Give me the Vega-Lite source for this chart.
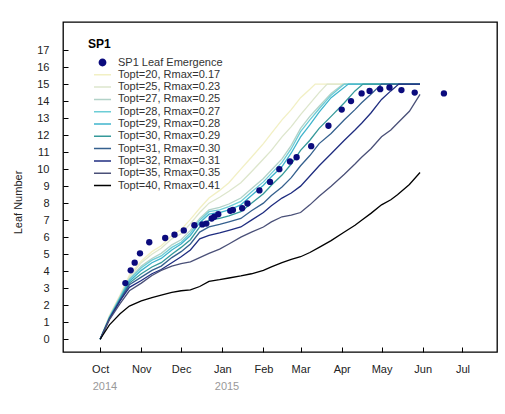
{
"$schema": "https://vega.github.io/schema/vega-lite/v6.json",
"width": 434, "height": 330,
"autosize": "none",
"padding": {"left": 63, "top": 22, "right": 8, "bottom": 62},
"background": "white",
"config": {"view": {"stroke": "#000", "strokeWidth": 1.3}, "font": "Liberation Sans", "axisY": {"labelOverlap": false}},
"datasets": {
"obs": [
{"series":"SP1 Leaf Emergence","date":"2014-10-20","value":3.3},
{"series":"SP1 Leaf Emergence","date":"2014-10-24","value":4.05},
{"series":"SP1 Leaf Emergence","date":"2014-10-27","value":4.5},
{"series":"SP1 Leaf Emergence","date":"2014-10-31","value":5.05},
{"series":"SP1 Leaf Emergence","date":"2014-11-07","value":5.7},
{"series":"SP1 Leaf Emergence","date":"2014-11-19","value":5.95},
{"series":"SP1 Leaf Emergence","date":"2014-11-26","value":6.15},
{"series":"SP1 Leaf Emergence","date":"2014-12-03","value":6.4},
{"series":"SP1 Leaf Emergence","date":"2014-12-11","value":6.7},
{"series":"SP1 Leaf Emergence","date":"2014-12-17","value":6.75},
{"series":"SP1 Leaf Emergence","date":"2014-12-20","value":6.8},
{"series":"SP1 Leaf Emergence","date":"2014-12-24","value":7.1},
{"series":"SP1 Leaf Emergence","date":"2014-12-26","value":7.2},
{"series":"SP1 Leaf Emergence","date":"2014-12-29","value":7.35},
{"series":"SP1 Leaf Emergence","date":"2015-01-07","value":7.55},
{"series":"SP1 Leaf Emergence","date":"2015-01-09","value":7.6},
{"series":"SP1 Leaf Emergence","date":"2015-01-16","value":7.7},
{"series":"SP1 Leaf Emergence","date":"2015-01-20","value":7.98},
{"series":"SP1 Leaf Emergence","date":"2015-01-29","value":8.75},
{"series":"SP1 Leaf Emergence","date":"2015-02-06","value":9.25},
{"series":"SP1 Leaf Emergence","date":"2015-02-13","value":10.0},
{"series":"SP1 Leaf Emergence","date":"2015-02-21","value":10.45},
{"series":"SP1 Leaf Emergence","date":"2015-02-26","value":10.7},
{"series":"SP1 Leaf Emergence","date":"2015-03-09","value":11.35},
{"series":"SP1 Leaf Emergence","date":"2015-03-22","value":12.55},
{"series":"SP1 Leaf Emergence","date":"2015-04-01","value":13.5},
{"series":"SP1 Leaf Emergence","date":"2015-04-08","value":14.0},
{"series":"SP1 Leaf Emergence","date":"2015-04-16","value":14.45},
{"series":"SP1 Leaf Emergence","date":"2015-04-22","value":14.6},
{"series":"SP1 Leaf Emergence","date":"2015-04-30","value":14.7},
{"series":"SP1 Leaf Emergence","date":"2015-05-07","value":14.8},
{"series":"SP1 Leaf Emergence","date":"2015-05-16","value":14.65},
{"series":"SP1 Leaf Emergence","date":"2015-05-26","value":14.5},
{"series":"SP1 Leaf Emergence","date":"2015-06-17","value":14.45}
],
"lines": [
{"series":"Topt=20, Rmax=0.17","date":"2014-10-01","value":0},
{"series":"Topt=20, Rmax=0.17","date":"2014-10-08","value":1.4},
{"series":"Topt=20, Rmax=0.17","date":"2014-10-16","value":2.6},
{"series":"Topt=20, Rmax=0.17","date":"2014-10-23","value":3.75},
{"series":"Topt=20, Rmax=0.17","date":"2014-11-01","value":4.6},
{"series":"Topt=20, Rmax=0.17","date":"2014-11-09","value":5.15},
{"series":"Topt=20, Rmax=0.17","date":"2014-11-16","value":5.5},
{"series":"Topt=20, Rmax=0.17","date":"2014-11-24","value":6.1},
{"series":"Topt=20, Rmax=0.17","date":"2014-12-01","value":6.45},
{"series":"Topt=20, Rmax=0.17","date":"2014-12-08","value":7.05},
{"series":"Topt=20, Rmax=0.17","date":"2014-12-15","value":7.7},
{"series":"Topt=20, Rmax=0.17","date":"2014-12-22","value":8.3},
{"series":"Topt=20, Rmax=0.17","date":"2014-12-30","value":8.75},
{"series":"Topt=20, Rmax=0.17","date":"2015-01-06","value":9.2},
{"series":"Topt=20, Rmax=0.17","date":"2015-01-15","value":10.0},
{"series":"Topt=20, Rmax=0.17","date":"2015-01-23","value":10.7},
{"series":"Topt=20, Rmax=0.17","date":"2015-02-01","value":11.5},
{"series":"Topt=20, Rmax=0.17","date":"2015-02-07","value":12.1},
{"series":"Topt=20, Rmax=0.17","date":"2015-02-15","value":12.9},
{"series":"Topt=20, Rmax=0.17","date":"2015-02-22","value":13.5},
{"series":"Topt=20, Rmax=0.17","date":"2015-03-01","value":14.2},
{"series":"Topt=20, Rmax=0.17","date":"2015-03-08","value":14.7},
{"series":"Topt=20, Rmax=0.17","date":"2015-03-12","value":15},
{"series":"Topt=20, Rmax=0.17","date":"2015-05-30","value":15},
{"series":"Topt=25, Rmax=0.23","date":"2014-10-01","value":0},
{"series":"Topt=25, Rmax=0.23","date":"2014-10-08","value":1.35},
{"series":"Topt=25, Rmax=0.23","date":"2014-10-16","value":2.55},
{"series":"Topt=25, Rmax=0.23","date":"2014-10-23","value":3.65},
{"series":"Topt=25, Rmax=0.23","date":"2014-11-01","value":4.5},
{"series":"Topt=25, Rmax=0.23","date":"2014-11-09","value":5.0},
{"series":"Topt=25, Rmax=0.23","date":"2014-11-16","value":5.35},
{"series":"Topt=25, Rmax=0.23","date":"2014-11-24","value":5.9},
{"series":"Topt=25, Rmax=0.23","date":"2014-12-01","value":6.2},
{"series":"Topt=25, Rmax=0.23","date":"2014-12-08","value":6.8},
{"series":"Topt=25, Rmax=0.23","date":"2014-12-15","value":7.45},
{"series":"Topt=25, Rmax=0.23","date":"2014-12-22","value":8.0},
{"series":"Topt=25, Rmax=0.23","date":"2014-12-30","value":8.35},
{"series":"Topt=25, Rmax=0.23","date":"2015-01-06","value":8.7},
{"series":"Topt=25, Rmax=0.23","date":"2015-01-15","value":9.2},
{"series":"Topt=25, Rmax=0.23","date":"2015-01-23","value":9.85},
{"series":"Topt=25, Rmax=0.23","date":"2015-02-01","value":10.6},
{"series":"Topt=25, Rmax=0.23","date":"2015-02-07","value":11.1},
{"series":"Topt=25, Rmax=0.23","date":"2015-02-15","value":11.9},
{"series":"Topt=25, Rmax=0.23","date":"2015-02-22","value":12.5},
{"series":"Topt=25, Rmax=0.23","date":"2015-03-01","value":13.2},
{"series":"Topt=25, Rmax=0.23","date":"2015-03-08","value":13.85},
{"series":"Topt=25, Rmax=0.23","date":"2015-03-15","value":14.5},
{"series":"Topt=25, Rmax=0.23","date":"2015-03-21","value":15},
{"series":"Topt=25, Rmax=0.23","date":"2015-05-30","value":15},
{"series":"Topt=27, Rmax=0.25","date":"2014-10-01","value":0},
{"series":"Topt=27, Rmax=0.25","date":"2014-10-08","value":1.3},
{"series":"Topt=27, Rmax=0.25","date":"2014-10-16","value":2.5},
{"series":"Topt=27, Rmax=0.25","date":"2014-10-23","value":3.55},
{"series":"Topt=27, Rmax=0.25","date":"2014-11-01","value":4.3},
{"series":"Topt=27, Rmax=0.25","date":"2014-11-09","value":4.75},
{"series":"Topt=27, Rmax=0.25","date":"2014-11-16","value":5.05},
{"series":"Topt=27, Rmax=0.25","date":"2014-11-24","value":5.55},
{"series":"Topt=27, Rmax=0.25","date":"2014-12-01","value":5.85},
{"series":"Topt=27, Rmax=0.25","date":"2014-12-08","value":6.4},
{"series":"Topt=27, Rmax=0.25","date":"2014-12-15","value":7.1},
{"series":"Topt=27, Rmax=0.25","date":"2014-12-22","value":7.6},
{"series":"Topt=27, Rmax=0.25","date":"2014-12-30","value":7.75},
{"series":"Topt=27, Rmax=0.25","date":"2015-01-06","value":7.95},
{"series":"Topt=27, Rmax=0.25","date":"2015-01-15","value":8.3},
{"series":"Topt=27, Rmax=0.25","date":"2015-01-23","value":8.85},
{"series":"Topt=27, Rmax=0.25","date":"2015-02-01","value":9.45},
{"series":"Topt=27, Rmax=0.25","date":"2015-02-07","value":9.95},
{"series":"Topt=27, Rmax=0.25","date":"2015-02-15","value":10.6},
{"series":"Topt=27, Rmax=0.25","date":"2015-02-22","value":11.4},
{"series":"Topt=27, Rmax=0.25","date":"2015-03-01","value":12.4},
{"series":"Topt=27, Rmax=0.25","date":"2015-03-08","value":13.1},
{"series":"Topt=27, Rmax=0.25","date":"2015-03-15","value":13.7},
{"series":"Topt=27, Rmax=0.25","date":"2015-03-24","value":14.45},
{"series":"Topt=27, Rmax=0.25","date":"2015-04-02","value":15},
{"series":"Topt=27, Rmax=0.25","date":"2015-05-30","value":15},
{"series":"Topt=28, Rmax=0.27","date":"2014-10-01","value":0},
{"series":"Topt=28, Rmax=0.27","date":"2014-10-08","value":1.3},
{"series":"Topt=28, Rmax=0.27","date":"2014-10-16","value":2.45},
{"series":"Topt=28, Rmax=0.27","date":"2014-10-23","value":3.5},
{"series":"Topt=28, Rmax=0.27","date":"2014-11-01","value":4.2},
{"series":"Topt=28, Rmax=0.27","date":"2014-11-09","value":4.65},
{"series":"Topt=28, Rmax=0.27","date":"2014-11-16","value":4.9},
{"series":"Topt=28, Rmax=0.27","date":"2014-11-24","value":5.4},
{"series":"Topt=28, Rmax=0.27","date":"2014-12-01","value":5.7},
{"series":"Topt=28, Rmax=0.27","date":"2014-12-08","value":6.25},
{"series":"Topt=28, Rmax=0.27","date":"2014-12-15","value":7.0},
{"series":"Topt=28, Rmax=0.27","date":"2014-12-22","value":7.5},
{"series":"Topt=28, Rmax=0.27","date":"2014-12-30","value":7.6},
{"series":"Topt=28, Rmax=0.27","date":"2015-01-06","value":7.8},
{"series":"Topt=28, Rmax=0.27","date":"2015-01-15","value":8.1},
{"series":"Topt=28, Rmax=0.27","date":"2015-01-23","value":8.65},
{"series":"Topt=28, Rmax=0.27","date":"2015-02-01","value":9.25},
{"series":"Topt=28, Rmax=0.27","date":"2015-02-07","value":9.75},
{"series":"Topt=28, Rmax=0.27","date":"2015-02-15","value":10.4},
{"series":"Topt=28, Rmax=0.27","date":"2015-02-22","value":11.2},
{"series":"Topt=28, Rmax=0.27","date":"2015-03-01","value":12.2},
{"series":"Topt=28, Rmax=0.27","date":"2015-03-08","value":12.9},
{"series":"Topt=28, Rmax=0.27","date":"2015-03-15","value":13.55},
{"series":"Topt=28, Rmax=0.27","date":"2015-03-24","value":14.35},
{"series":"Topt=28, Rmax=0.27","date":"2015-04-03","value":15},
{"series":"Topt=28, Rmax=0.27","date":"2015-05-30","value":15},
{"series":"Topt=29, Rmax=0.28","date":"2014-10-01","value":0},
{"series":"Topt=29, Rmax=0.28","date":"2014-10-08","value":1.25},
{"series":"Topt=29, Rmax=0.28","date":"2014-10-16","value":2.4},
{"series":"Topt=29, Rmax=0.28","date":"2014-10-23","value":3.4},
{"series":"Topt=29, Rmax=0.28","date":"2014-11-01","value":4.05},
{"series":"Topt=29, Rmax=0.28","date":"2014-11-09","value":4.5},
{"series":"Topt=29, Rmax=0.28","date":"2014-11-16","value":4.75},
{"series":"Topt=29, Rmax=0.28","date":"2014-11-24","value":5.25},
{"series":"Topt=29, Rmax=0.28","date":"2014-12-01","value":5.6},
{"series":"Topt=29, Rmax=0.28","date":"2014-12-08","value":6.1},
{"series":"Topt=29, Rmax=0.28","date":"2014-12-15","value":6.85},
{"series":"Topt=29, Rmax=0.28","date":"2014-12-22","value":7.35},
{"series":"Topt=29, Rmax=0.28","date":"2014-12-30","value":7.45},
{"series":"Topt=29, Rmax=0.28","date":"2015-01-06","value":7.6},
{"series":"Topt=29, Rmax=0.28","date":"2015-01-15","value":7.9},
{"series":"Topt=29, Rmax=0.28","date":"2015-01-23","value":8.45},
{"series":"Topt=29, Rmax=0.28","date":"2015-02-01","value":9.05},
{"series":"Topt=29, Rmax=0.28","date":"2015-02-07","value":9.55},
{"series":"Topt=29, Rmax=0.28","date":"2015-02-15","value":10.15},
{"series":"Topt=29, Rmax=0.28","date":"2015-02-22","value":10.95},
{"series":"Topt=29, Rmax=0.28","date":"2015-03-01","value":11.9},
{"series":"Topt=29, Rmax=0.28","date":"2015-03-08","value":12.6},
{"series":"Topt=29, Rmax=0.28","date":"2015-03-15","value":13.35},
{"series":"Topt=29, Rmax=0.28","date":"2015-03-24","value":14.2},
{"series":"Topt=29, Rmax=0.28","date":"2015-04-06","value":15},
{"series":"Topt=29, Rmax=0.28","date":"2015-05-30","value":15},
{"series":"Topt=30, Rmax=0.29","date":"2014-10-01","value":0},
{"series":"Topt=30, Rmax=0.29","date":"2014-10-08","value":1.25},
{"series":"Topt=30, Rmax=0.29","date":"2014-10-16","value":2.35},
{"series":"Topt=30, Rmax=0.29","date":"2014-10-23","value":3.3},
{"series":"Topt=30, Rmax=0.29","date":"2014-11-01","value":3.85},
{"series":"Topt=30, Rmax=0.29","date":"2014-11-09","value":4.25},
{"series":"Topt=30, Rmax=0.29","date":"2014-11-16","value":4.5},
{"series":"Topt=30, Rmax=0.29","date":"2014-11-24","value":5.0},
{"series":"Topt=30, Rmax=0.29","date":"2014-12-01","value":5.4},
{"series":"Topt=30, Rmax=0.29","date":"2014-12-08","value":5.85},
{"series":"Topt=30, Rmax=0.29","date":"2014-12-15","value":6.6},
{"series":"Topt=30, Rmax=0.29","date":"2014-12-22","value":7.0},
{"series":"Topt=30, Rmax=0.29","date":"2014-12-30","value":7.1},
{"series":"Topt=30, Rmax=0.29","date":"2015-01-06","value":7.25},
{"series":"Topt=30, Rmax=0.29","date":"2015-01-15","value":7.5},
{"series":"Topt=30, Rmax=0.29","date":"2015-01-23","value":8.0},
{"series":"Topt=30, Rmax=0.29","date":"2015-02-01","value":8.55},
{"series":"Topt=30, Rmax=0.29","date":"2015-02-07","value":9.05},
{"series":"Topt=30, Rmax=0.29","date":"2015-02-15","value":9.65},
{"series":"Topt=30, Rmax=0.29","date":"2015-02-22","value":10.3},
{"series":"Topt=30, Rmax=0.29","date":"2015-03-01","value":11.1},
{"series":"Topt=30, Rmax=0.29","date":"2015-03-08","value":11.7},
{"series":"Topt=30, Rmax=0.29","date":"2015-03-15","value":12.4},
{"series":"Topt=30, Rmax=0.29","date":"2015-03-24","value":13.1},
{"series":"Topt=30, Rmax=0.29","date":"2015-04-03","value":13.9},
{"series":"Topt=30, Rmax=0.29","date":"2015-04-11","value":14.6},
{"series":"Topt=30, Rmax=0.29","date":"2015-04-17","value":15},
{"series":"Topt=30, Rmax=0.29","date":"2015-05-30","value":15},
{"series":"Topt=31, Rmax=0.30","date":"2014-10-01","value":0},
{"series":"Topt=31, Rmax=0.30","date":"2014-10-08","value":1.2},
{"series":"Topt=31, Rmax=0.30","date":"2014-10-16","value":2.3},
{"series":"Topt=31, Rmax=0.30","date":"2014-10-23","value":3.2},
{"series":"Topt=31, Rmax=0.30","date":"2014-11-01","value":3.65},
{"series":"Topt=31, Rmax=0.30","date":"2014-11-09","value":4.05},
{"series":"Topt=31, Rmax=0.30","date":"2014-11-16","value":4.3},
{"series":"Topt=31, Rmax=0.30","date":"2014-11-24","value":4.8},
{"series":"Topt=31, Rmax=0.30","date":"2014-12-01","value":5.15},
{"series":"Topt=31, Rmax=0.30","date":"2014-12-08","value":5.6},
{"series":"Topt=31, Rmax=0.30","date":"2014-12-15","value":6.3},
{"series":"Topt=31, Rmax=0.30","date":"2014-12-22","value":6.6},
{"series":"Topt=31, Rmax=0.30","date":"2014-12-30","value":6.75},
{"series":"Topt=31, Rmax=0.30","date":"2015-01-06","value":6.9},
{"series":"Topt=31, Rmax=0.30","date":"2015-01-15","value":7.1},
{"series":"Topt=31, Rmax=0.30","date":"2015-01-23","value":7.55},
{"series":"Topt=31, Rmax=0.30","date":"2015-02-01","value":8.0},
{"series":"Topt=31, Rmax=0.30","date":"2015-02-07","value":8.45},
{"series":"Topt=31, Rmax=0.30","date":"2015-02-15","value":8.95},
{"series":"Topt=31, Rmax=0.30","date":"2015-02-22","value":9.5},
{"series":"Topt=31, Rmax=0.30","date":"2015-03-01","value":10.2},
{"series":"Topt=31, Rmax=0.30","date":"2015-03-08","value":10.8},
{"series":"Topt=31, Rmax=0.30","date":"2015-03-15","value":11.5},
{"series":"Topt=31, Rmax=0.30","date":"2015-03-24","value":12.1},
{"series":"Topt=31, Rmax=0.30","date":"2015-04-03","value":12.9},
{"series":"Topt=31, Rmax=0.30","date":"2015-04-11","value":13.5},
{"series":"Topt=31, Rmax=0.30","date":"2015-04-16","value":13.9},
{"series":"Topt=31, Rmax=0.30","date":"2015-04-23","value":14.4},
{"series":"Topt=31, Rmax=0.30","date":"2015-05-01","value":15},
{"series":"Topt=31, Rmax=0.30","date":"2015-05-30","value":15},
{"series":"Topt=32, Rmax=0.31","date":"2014-10-01","value":0},
{"series":"Topt=32, Rmax=0.31","date":"2014-10-08","value":1.2},
{"series":"Topt=32, Rmax=0.31","date":"2014-10-16","value":2.25},
{"series":"Topt=32, Rmax=0.31","date":"2014-10-23","value":3.05},
{"series":"Topt=32, Rmax=0.31","date":"2014-11-01","value":3.45},
{"series":"Topt=32, Rmax=0.31","date":"2014-11-09","value":3.85},
{"series":"Topt=32, Rmax=0.31","date":"2014-11-16","value":4.1},
{"series":"Topt=32, Rmax=0.31","date":"2014-11-24","value":4.5},
{"series":"Topt=32, Rmax=0.31","date":"2014-12-01","value":4.85},
{"series":"Topt=32, Rmax=0.31","date":"2014-12-08","value":5.25},
{"series":"Topt=32, Rmax=0.31","date":"2014-12-15","value":5.9},
{"series":"Topt=32, Rmax=0.31","date":"2014-12-22","value":6.1},
{"series":"Topt=32, Rmax=0.31","date":"2014-12-30","value":6.25},
{"series":"Topt=32, Rmax=0.31","date":"2015-01-06","value":6.4},
{"series":"Topt=32, Rmax=0.31","date":"2015-01-15","value":6.6},
{"series":"Topt=32, Rmax=0.31","date":"2015-01-23","value":7.0},
{"series":"Topt=32, Rmax=0.31","date":"2015-02-01","value":7.45},
{"series":"Topt=32, Rmax=0.31","date":"2015-02-07","value":7.85},
{"series":"Topt=32, Rmax=0.31","date":"2015-02-15","value":8.3},
{"series":"Topt=32, Rmax=0.31","date":"2015-02-22","value":8.6},
{"series":"Topt=32, Rmax=0.31","date":"2015-03-01","value":9.0},
{"series":"Topt=32, Rmax=0.31","date":"2015-03-08","value":9.6},
{"series":"Topt=32, Rmax=0.31","date":"2015-03-15","value":10.2},
{"series":"Topt=32, Rmax=0.31","date":"2015-03-24","value":10.9},
{"series":"Topt=32, Rmax=0.31","date":"2015-04-03","value":11.7},
{"series":"Topt=32, Rmax=0.31","date":"2015-04-11","value":12.3},
{"series":"Topt=32, Rmax=0.31","date":"2015-04-16","value":12.7},
{"series":"Topt=32, Rmax=0.31","date":"2015-04-23","value":13.3},
{"series":"Topt=32, Rmax=0.31","date":"2015-05-01","value":14.1},
{"series":"Topt=32, Rmax=0.31","date":"2015-05-08","value":14.6},
{"series":"Topt=32, Rmax=0.31","date":"2015-05-14","value":15},
{"series":"Topt=32, Rmax=0.31","date":"2015-05-30","value":15},
{"series":"Topt=35, Rmax=0.35","date":"2014-10-01","value":0},
{"series":"Topt=35, Rmax=0.35","date":"2014-10-08","value":1.15},
{"series":"Topt=35, Rmax=0.35","date":"2014-10-16","value":2.1},
{"series":"Topt=35, Rmax=0.35","date":"2014-10-23","value":2.85},
{"series":"Topt=35, Rmax=0.35","date":"2014-11-01","value":3.3},
{"series":"Topt=35, Rmax=0.35","date":"2014-11-09","value":3.75},
{"series":"Topt=35, Rmax=0.35","date":"2014-11-16","value":4.05},
{"series":"Topt=35, Rmax=0.35","date":"2014-11-24","value":4.3},
{"series":"Topt=35, Rmax=0.35","date":"2014-12-01","value":4.45},
{"series":"Topt=35, Rmax=0.35","date":"2014-12-08","value":4.55},
{"series":"Topt=35, Rmax=0.35","date":"2014-12-15","value":4.8},
{"series":"Topt=35, Rmax=0.35","date":"2014-12-22","value":5.05},
{"series":"Topt=35, Rmax=0.35","date":"2014-12-30","value":5.3},
{"series":"Topt=35, Rmax=0.35","date":"2015-01-06","value":5.6},
{"series":"Topt=35, Rmax=0.35","date":"2015-01-15","value":6.0},
{"series":"Topt=35, Rmax=0.35","date":"2015-01-23","value":6.3},
{"series":"Topt=35, Rmax=0.35","date":"2015-02-01","value":6.6},
{"series":"Topt=35, Rmax=0.35","date":"2015-02-07","value":6.9},
{"series":"Topt=35, Rmax=0.35","date":"2015-02-15","value":7.2},
{"series":"Topt=35, Rmax=0.35","date":"2015-02-22","value":7.3},
{"series":"Topt=35, Rmax=0.35","date":"2015-03-01","value":7.45},
{"series":"Topt=35, Rmax=0.35","date":"2015-03-08","value":7.9},
{"series":"Topt=35, Rmax=0.35","date":"2015-03-15","value":8.4},
{"series":"Topt=35, Rmax=0.35","date":"2015-03-24","value":9.0},
{"series":"Topt=35, Rmax=0.35","date":"2015-04-03","value":9.7},
{"series":"Topt=35, Rmax=0.35","date":"2015-04-11","value":10.3},
{"series":"Topt=35, Rmax=0.35","date":"2015-04-16","value":10.7},
{"series":"Topt=35, Rmax=0.35","date":"2015-04-23","value":11.2},
{"series":"Topt=35, Rmax=0.35","date":"2015-05-01","value":11.9},
{"series":"Topt=35, Rmax=0.35","date":"2015-05-08","value":12.3},
{"series":"Topt=35, Rmax=0.35","date":"2015-05-13","value":12.7},
{"series":"Topt=35, Rmax=0.35","date":"2015-05-22","value":13.4},
{"series":"Topt=35, Rmax=0.35","date":"2015-05-30","value":14.4},
{"series":"Topt=40, Rmax=0.41","date":"2014-10-01","value":0},
{"series":"Topt=40, Rmax=0.41","date":"2014-10-08","value":0.85},
{"series":"Topt=40, Rmax=0.41","date":"2014-10-16","value":1.5},
{"series":"Topt=40, Rmax=0.41","date":"2014-10-23","value":1.95},
{"series":"Topt=40, Rmax=0.41","date":"2014-11-01","value":2.25},
{"series":"Topt=40, Rmax=0.41","date":"2014-11-09","value":2.45},
{"series":"Topt=40, Rmax=0.41","date":"2014-11-16","value":2.6},
{"series":"Topt=40, Rmax=0.41","date":"2014-11-24","value":2.75},
{"series":"Topt=40, Rmax=0.41","date":"2014-12-01","value":2.85},
{"series":"Topt=40, Rmax=0.41","date":"2014-12-08","value":2.9},
{"series":"Topt=40, Rmax=0.41","date":"2014-12-15","value":3.1},
{"series":"Topt=40, Rmax=0.41","date":"2014-12-22","value":3.4},
{"series":"Topt=40, Rmax=0.41","date":"2014-12-30","value":3.5},
{"series":"Topt=40, Rmax=0.41","date":"2015-01-06","value":3.6},
{"series":"Topt=40, Rmax=0.41","date":"2015-01-15","value":3.72},
{"series":"Topt=40, Rmax=0.41","date":"2015-01-23","value":3.85},
{"series":"Topt=40, Rmax=0.41","date":"2015-02-01","value":4.05},
{"series":"Topt=40, Rmax=0.41","date":"2015-02-07","value":4.25},
{"series":"Topt=40, Rmax=0.41","date":"2015-02-15","value":4.5},
{"series":"Topt=40, Rmax=0.41","date":"2015-02-22","value":4.7},
{"series":"Topt=40, Rmax=0.41","date":"2015-03-01","value":4.85},
{"series":"Topt=40, Rmax=0.41","date":"2015-03-08","value":5.1},
{"series":"Topt=40, Rmax=0.41","date":"2015-03-15","value":5.4},
{"series":"Topt=40, Rmax=0.41","date":"2015-03-24","value":5.8},
{"series":"Topt=40, Rmax=0.41","date":"2015-04-03","value":6.3},
{"series":"Topt=40, Rmax=0.41","date":"2015-04-11","value":6.7},
{"series":"Topt=40, Rmax=0.41","date":"2015-04-16","value":7.0},
{"series":"Topt=40, Rmax=0.41","date":"2015-04-23","value":7.4},
{"series":"Topt=40, Rmax=0.41","date":"2015-05-01","value":7.9},
{"series":"Topt=40, Rmax=0.41","date":"2015-05-08","value":8.2},
{"series":"Topt=40, Rmax=0.41","date":"2015-05-13","value":8.5},
{"series":"Topt=40, Rmax=0.41","date":"2015-05-22","value":9.1},
{"series":"Topt=40, Rmax=0.41","date":"2015-05-30","value":9.8}
]
},
"layer": [
{
"data": {"name": "lines"},
"mark": {"type": "line", "strokeWidth": 1.3},
"encoding": {
"x": {"field": "date", "type": "temporal",
 "scale": {"type": "utc", "domain": [{"year": 2014, "month": 9, "date": 3, "utc": true}, {"year": 2015, "month": 7, "date": 27, "utc": true}]},
 "axis": {"orient": "bottom", "title": null, "grid": false, "domain": false,
  "values": [{"year":2014,"month":10,"date":1,"utc":true},{"year":2014,"month":11,"date":1,"utc":true},{"year":2014,"month":12,"date":1,"utc":true},{"year":2015,"month":1,"date":1,"utc":true},{"year":2015,"month":2,"date":1,"utc":true},{"year":2015,"month":3,"date":1,"utc":true},{"year":2015,"month":4,"date":1,"utc":true},{"year":2015,"month":5,"date":1,"utc":true},{"year":2015,"month":6,"date":1,"utc":true},{"year":2015,"month":7,"date":1,"utc":true}],
  "labelExpr": "utcFormat(datum.value, '%b')",
  "tickSize": -5, "tickColor": "#000", "labelPadding": 16, "labelFontSize": 11, "labelColor": "#222", "labelFlush": false, "labelOverlap": false}},
"y": {"field": "value", "type": "quantitative",
 "scale": {"domain": [-0.75, 18.65], "nice": false, "zero": false},
 "axis": {"title": "Leaf Number", "grid": false, "domain": false,
  "values": [0,1,2,3,4,5,6,7,8,9,10,11,12,13,14,15,16,17],
  "labelOverlap": false, "labelFlush": false,
  "tickSize": -5, "tickColor": "#000", "labelPadding": 19, "labelFontSize": 11, "labelColor": "#222",
  "titleFontSize": 11, "titleFontWeight": "normal", "titleColor": "#222", "titleX": -45, "titleY": 180, "titleAlign": "center", "titleBaseline": "middle"}},
"color": {"field": "series", "type": "nominal",
 "scale": {"domain": ["SP1 Leaf Emergence","Topt=20, Rmax=0.17","Topt=25, Rmax=0.23","Topt=27, Rmax=0.25","Topt=28, Rmax=0.27","Topt=29, Rmax=0.28","Topt=30, Rmax=0.29","Topt=31, Rmax=0.30","Topt=32, Rmax=0.31","Topt=35, Rmax=0.35","Topt=40, Rmax=0.41"],
  "range": ["#0b0b7d","#f2f0c4","#dde6cc","#b2d2c8","#6ccdd6","#3fb4cc","#35999a","#35608e","#1f2d80","#4a5078","#000000"]},
 "legend": {"orient": "none", "legendX": 25, "legendY": 17, "padding": 0,
  "title": "SP1", "titleFontSize": 12, "titleFontWeight": "bold", "titleColor": "#000", "titlePadding": 6,
  "labelFontSize": 11, "labelColor": "#333", "labelOffset": 6,
  "symbolType": "stroke", "symbolSize": 290, "symbolStrokeWidth": 1.5, "symbolOffset": 5,
  "clipHeight": 11, "rowPadding": 0.3,
  "encode": {"symbols": {"update": {
   "shape": {"signal": "datum.value === 'SP1 Leaf Emergence' ? 'circle' : 'stroke'"},
   "size": {"signal": "datum.value === 'SP1 Leaf Emergence' ? 40 : 290"},
   "fill": {"signal": "datum.value === 'SP1 Leaf Emergence' ? '#0b0b7d' : 'transparent'"},
   "stroke": {"signal": "datum.value === 'SP1 Leaf Emergence' ? 'transparent' : scale('color', datum.value)"},
   "strokeWidth": {"value": 1.5},
   "opacity": {"value": 1}
  }}}}}
}
},
{
"data": {"name": "obs"},
"mark": {"type": "point", "filled": true, "size": 40, "opacity": 1},
"encoding": {
"x": {"field": "date", "type": "temporal",
 "axis": {"orient": "bottom", "title": null, "grid": false, "domain": false, "ticks": false,
  "values": [{"year":2014,"month":10,"date":1,"utc":true},{"year":2015,"month":1,"date":1,"utc":true}],
  "labelExpr": "utcFormat(datum.value, '%Y')",
  "labelPadding": 28, "labelFontSize": 11, "labelColor": "#999", "labelAlign": "left", "labelOffset": -8, "labelFlush": false, "labelOverlap": false}},
"y": {"field": "value", "type": "quantitative",
 "axis": {"title": "Leaf Number", "grid": false, "domain": false,
  "values": [0,1,2,3,4,5,6,7,8,9,10,11,12,13,14,15,16,17],
  "labelOverlap": false, "labelFlush": false,
  "tickSize": -5, "tickColor": "#000", "labelPadding": 19, "labelFontSize": 11, "labelColor": "#222",
  "titleFontSize": 11, "titleFontWeight": "normal", "titleColor": "#222", "titleX": -45, "titleY": 180, "titleAlign": "center", "titleBaseline": "middle"}},
"color": {"field": "series", "type": "nominal"}
}
}
],
"resolve": {"axis": {"x": "independent"}}
}
